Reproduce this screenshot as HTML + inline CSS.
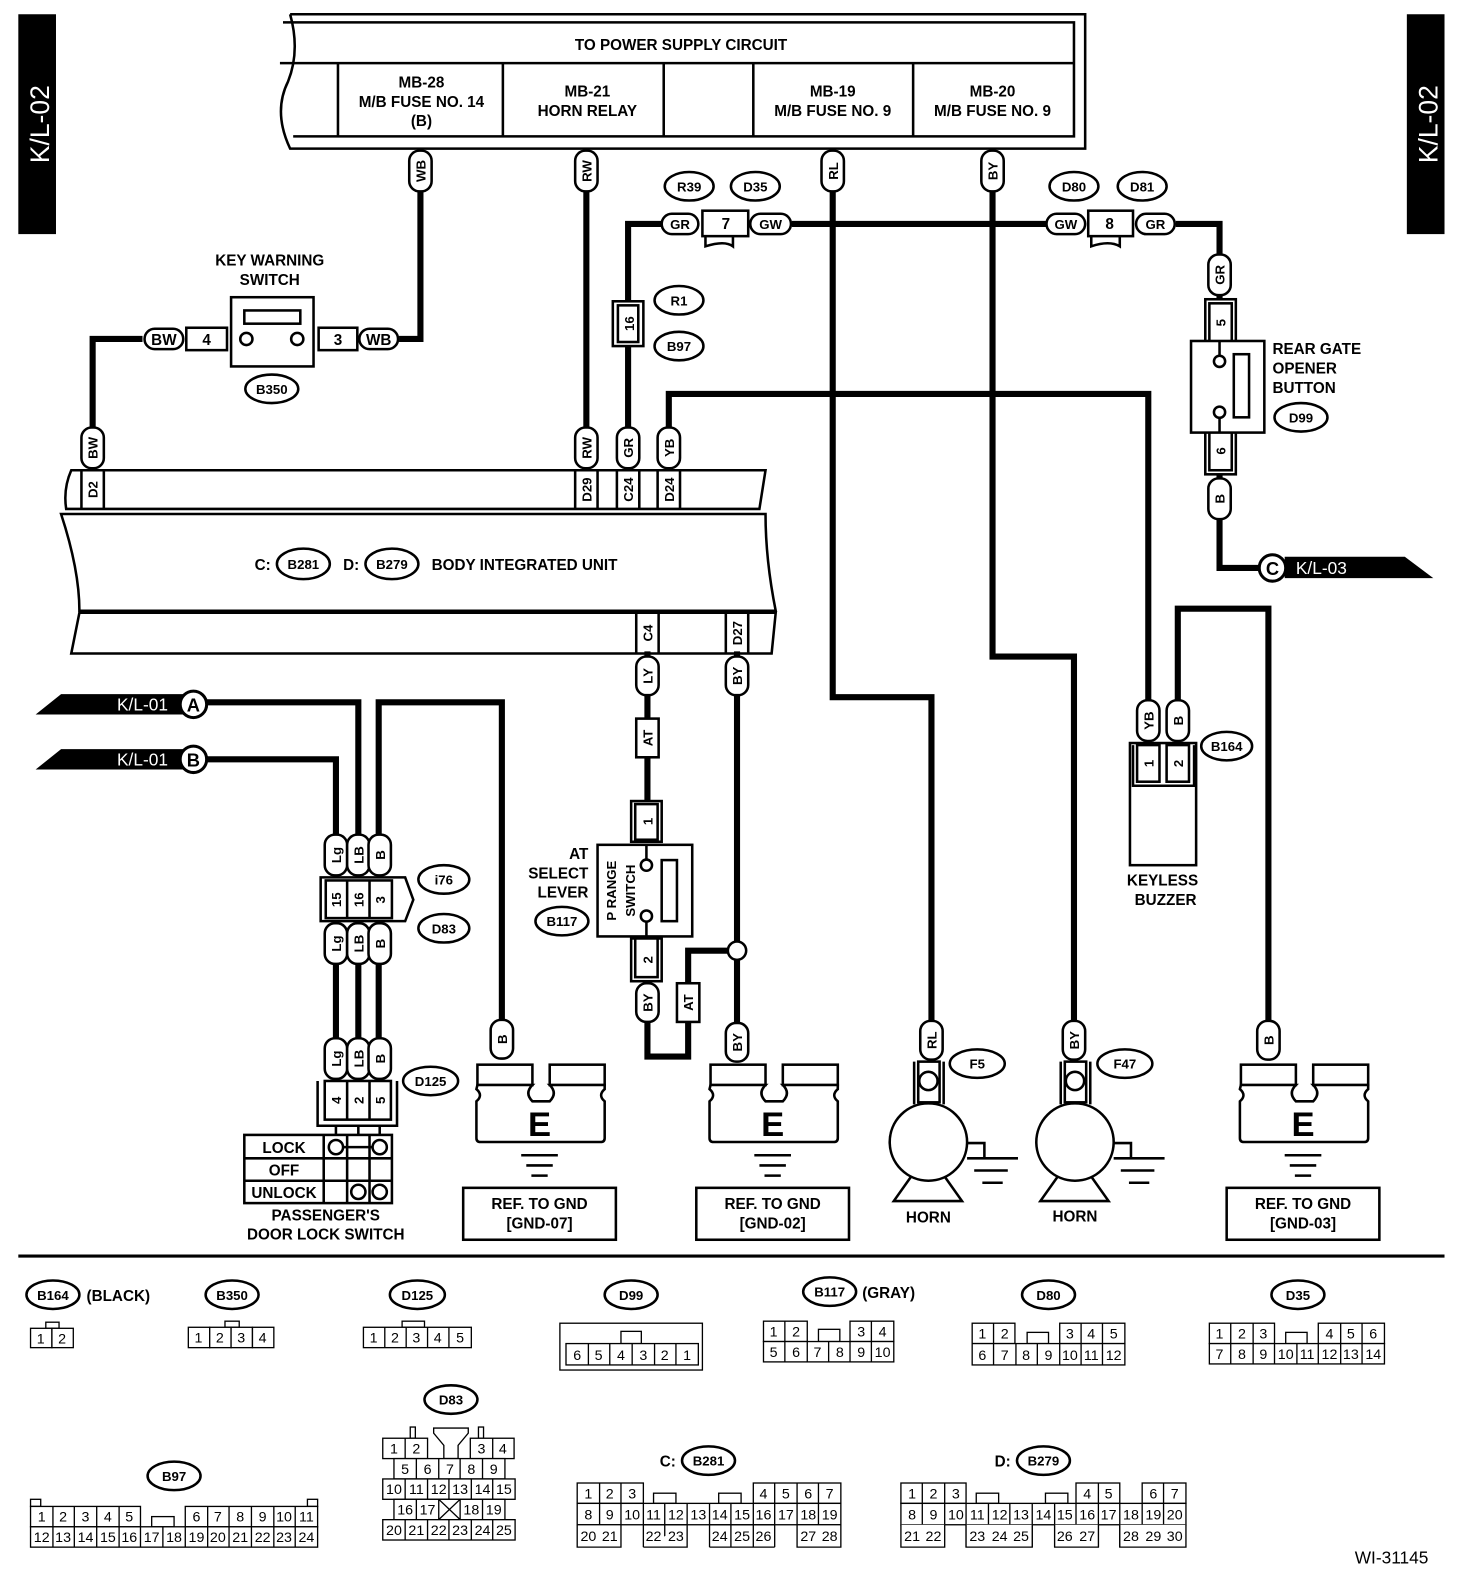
<!DOCTYPE html>
<html><head><meta charset="utf-8"><style>
html,body{margin:0;padding:0;background:#fff}
svg{display:block}
text{font-family:"Liberation Sans",Arial,sans-serif;font-weight:bold;fill:#000}
.w{fill:none;stroke:#000;stroke-width:6}
.l{fill:none;stroke:#000;stroke-width:2.5}
.p{fill:#fff;stroke:#000;stroke-width:2.5}
.t{font-size:15px;text-anchor:middle}
.s{font-size:13px;text-anchor:middle}
.c{fill:#fff;stroke:#000;stroke-width:1.3}
.n{font-size:14px;text-anchor:middle;font-weight:normal}
</style></head><body>
<svg width="1472" height="1596" viewBox="0 0 1446 1568" preserveAspectRatio="none" xmlns="http://www.w3.org/2000/svg">
<!-- side bars -->
<rect x="18" y="14" width="37" height="216" fill="#000"/>
<text transform="translate(48,122) rotate(-90)" style="fill:#fff;font-size:26px;font-weight:normal" text-anchor="middle">K/L-02</text>
<rect x="1382" y="14" width="37" height="216" fill="#000"/>
<text transform="translate(1412,122) rotate(-90)" style="fill:#fff;font-size:26px;font-weight:normal" text-anchor="middle">K/L-02</text>

<!-- top box -->
<path class="l" d="M285,14 L1066,14 L1066,146 L285,146 Q268,110 283,80 Q295,50 285,14" stroke-width="3"/>
<path class="l" d="M278,22 L1055,22 L1055,134 L288,134 M275,62 L1055,62 M332,62 V134 M494,62 V134 M652,62 V134 M740,62 V134 M897,62 V134"/>
<text x="669" y="49" class="t">TO POWER SUPPLY CIRCUIT</text>
<text x="414" y="86" class="t">MB-28</text><text x="414" y="105" class="t">M/B FUSE NO. 14</text><text x="414" y="124" class="t">(B)</text>
<text x="577" y="95" class="t">MB-21</text><text x="577" y="114" class="t">HORN RELAY</text>
<text x="818" y="95" class="t">MB-19</text><text x="818" y="114" class="t">M/B FUSE NO. 9</text>
<text x="975" y="95" class="t">MB-20</text><text x="975" y="114" class="t">M/B FUSE NO. 9</text>

<!-- wires -->
<path class="w" d="M413,146 V333 H392"/>
<path class="w" d="M140,333 H91 V460"/>
<path class="w" d="M576,146 V462"/>
<path class="w" d="M617,462 V220 H650"/>
<path class="w" d="M778,220 H1028"/>
<path class="w" d="M1155,220 H1198 V295"/>
<path class="w" d="M1198,465 V558 H1240"/>
<path class="w" d="M818,146 V685 H915 V1005"/>
<path class="w" d="M975,146 V645 H1055 V1005"/>
<path class="w" d="M657,462 V387 H1128 V690"/>
<path class="w" d="M1157,690 V598 H1246 V1005"/>
<path class="w" d="M636,640 V790"/>
<path class="w" d="M636,960 V1038 H676 V934 H724"/>
<path class="w" d="M724,640 V1005"/>
<path class="w" d="M200,690 H352 V820 M372,820 V690 H493 V1002 M200,746 H330 V820"/>
<path class="w" d="M330,905 V1062 M352,905 V1062 M372,905 V1062"/>
<circle cx="724" cy="934" r="9" class="p"/>

<!-- key warning switch -->
<text x="265" y="261" class="t">KEY WARNING</text><text x="265" y="280" class="t">SWITCH</text>
<rect x="227" y="292" width="81" height="68" class="p"/>
<rect x="240" y="305" width="55" height="13" class="p"/>
<circle cx="242" cy="333" r="6" class="p"/><circle cx="292" cy="333" r="6" class="p"/>
<rect x="183" y="322" width="40" height="22" class="p"/><text x="203" y="339" class="t">4</text>
<rect x="313" y="322" width="38" height="22" class="p"/><text x="332" y="339" class="t">3</text>
<rect x="142" y="323" width="38" height="20" rx="10" class="p"/><text x="161" y="339" class="t">BW</text>
<rect x="353" y="323" width="38" height="20" rx="10" class="p"/><text x="372" y="339" class="t">WB</text>
<ellipse cx="267" cy="382" rx="26" ry="14" class="p"/><text x="267" y="387" class="s">B350</text>

<!-- vertical pills -->
<g>
<rect x="402" y="148" width="22" height="40" rx="10" class="p"/><text transform="translate(418,168) rotate(-90)" class="s">WB</text>
<rect x="565" y="148" width="22" height="40" rx="10" class="p"/><text transform="translate(581,168) rotate(-90)" class="s">RW</text>
<rect x="807" y="148" width="22" height="40" rx="10" class="p"/><text transform="translate(823,168) rotate(-90)" class="s">RL</text>
<rect x="964" y="148" width="22" height="40" rx="10" class="p"/><text transform="translate(980,168) rotate(-90)" class="s">BY</text>
<rect x="80" y="420" width="22" height="40" rx="10" class="p"/><text transform="translate(96,440) rotate(-90)" class="s">BW</text>
<rect x="565" y="420" width="22" height="40" rx="10" class="p"/><text transform="translate(581,440) rotate(-90)" class="s">RW</text>
<rect x="606" y="420" width="22" height="40" rx="10" class="p"/><text transform="translate(622,440) rotate(-90)" class="s">GR</text>
<rect x="646" y="420" width="22" height="40" rx="10" class="p"/><text transform="translate(662,440) rotate(-90)" class="s">YB</text>
<rect x="1187" y="250" width="22" height="40" rx="10" class="p"/><text transform="translate(1203,270) rotate(-90)" class="s">GR</text>
<rect x="1187" y="470" width="22" height="40" rx="10" class="p"/><text transform="translate(1203,490) rotate(-90)" class="s">B</text>
<rect x="625" y="645" width="22" height="38" rx="10" class="p"/><text transform="translate(641,664) rotate(-90)" class="s">LY</text>
<rect x="713" y="645" width="22" height="38" rx="10" class="p"/><text transform="translate(729,664) rotate(-90)" class="s">BY</text>
<rect x="625" y="706" width="22" height="38" class="p"/><text transform="translate(641,725) rotate(-90)" class="s">AT</text>
<rect x="625" y="966" width="22" height="38" rx="10" class="p"/><text transform="translate(641,985) rotate(-90)" class="s">BY</text>
<rect x="665" y="966" width="22" height="38" class="p"/><text transform="translate(681,985) rotate(-90)" class="s">AT</text>
<rect x="713" y="1005" width="22" height="38" rx="10" class="p"/><text transform="translate(729,1024) rotate(-90)" class="s">BY</text>
<rect x="482" y="1002" width="22" height="38" rx="10" class="p"/><text transform="translate(498,1021) rotate(-90)" class="s">B</text>
<rect x="904" y="1003" width="22" height="38" rx="10" class="p"/><text transform="translate(920,1022) rotate(-90)" class="s">RL</text>
<rect x="1044" y="1003" width="22" height="38" rx="10" class="p"/><text transform="translate(1060,1022) rotate(-90)" class="s">BY</text>
<rect x="1235" y="1003" width="22" height="38" rx="10" class="p"/><text transform="translate(1251,1022) rotate(-90)" class="s">B</text>
<rect x="1117" y="688" width="22" height="40" rx="10" class="p"/><text transform="translate(1133,708) rotate(-90)" class="s">YB</text>
<rect x="1146" y="688" width="22" height="40" rx="10" class="p"/><text transform="translate(1162,708) rotate(-90)" class="s">B</text>
<rect x="319" y="820" width="22" height="40" rx="10" class="p"/><text transform="translate(335,840) rotate(-90)" class="s">Lg</text>
<rect x="341" y="820" width="22" height="40" rx="10" class="p"/><text transform="translate(357,840) rotate(-90)" class="s">LB</text>
<rect x="362" y="820" width="22" height="40" rx="10" class="p"/><text transform="translate(378,840) rotate(-90)" class="s">B</text>
<rect x="319" y="907" width="22" height="40" rx="10" class="p"/><text transform="translate(335,927) rotate(-90)" class="s">Lg</text>
<rect x="341" y="907" width="22" height="40" rx="10" class="p"/><text transform="translate(357,927) rotate(-90)" class="s">LB</text>
<rect x="362" y="907" width="22" height="40" rx="10" class="p"/><text transform="translate(378,927) rotate(-90)" class="s">B</text>
<rect x="319" y="1020" width="22" height="40" rx="10" class="p"/><text transform="translate(335,1040) rotate(-90)" class="s">Lg</text>
<rect x="341" y="1020" width="22" height="40" rx="10" class="p"/><text transform="translate(357,1040) rotate(-90)" class="s">LB</text>
<rect x="362" y="1020" width="22" height="40" rx="10" class="p"/><text transform="translate(378,1040) rotate(-90)" class="s">B</text>
</g>

<!-- R39/D35 connector -->
<rect x="650" y="210" width="36" height="20" rx="10" class="p"/><text x="668" y="225" class="s">GR</text>
<rect x="690" y="207" width="45" height="25" class="p"/><path class="l" d="M693,232 V242 Q712,236 720,242 V232"/><text x="713" y="225" class="t">7</text>
<rect x="737" y="210" width="40" height="20" rx="10" class="p"/><text x="757" y="225" class="s">GW</text>
<ellipse cx="677" cy="183" rx="24" ry="14" class="p"/><text x="677" y="188" class="s">R39</text>
<ellipse cx="742" cy="183" rx="24" ry="14" class="p"/><text x="742" y="188" class="s">D35</text>
<rect x="1028" y="210" width="38" height="20" rx="10" class="p"/><text x="1047" y="225" class="s">GW</text>
<rect x="1069" y="207" width="44" height="25" class="p"/><path class="l" d="M1072,232 V242 Q1090,236 1100,242 V232"/><text x="1090" y="225" class="t">8</text>
<rect x="1116" y="210" width="38" height="20" rx="10" class="p"/><text x="1135" y="225" class="s">GR</text>
<ellipse cx="1055" cy="183" rx="24" ry="14" class="p"/><text x="1055" y="188" class="s">D80</text>
<ellipse cx="1122" cy="183" rx="24" ry="14" class="p"/><text x="1122" y="188" class="s">D81</text>

<!-- R1 connector 16 -->
<rect x="602" y="296" width="30" height="44" class="p"/><rect x="607" y="300" width="20" height="36" class="p"/><text transform="translate(623,318) rotate(-90)" class="s">16</text>
<ellipse cx="667" cy="295" rx="24" ry="14" class="p"/><text x="667" y="300" class="s">R1</text>
<ellipse cx="667" cy="340" rx="24" ry="14" class="p"/><text x="667" y="345" class="s">B97</text>

<!-- rear gate -->
<rect x="1184" y="294" width="30" height="42" class="p"/><rect x="1188" y="298" width="22" height="38" class="p"/><text transform="translate(1204,317) rotate(-90)" class="s">5</text>
<rect x="1184" y="424" width="30" height="42" class="p"/><rect x="1188" y="424" width="22" height="38" class="p"/><text transform="translate(1204,443) rotate(-90)" class="s">6</text>
<rect x="1170" y="335" width="72" height="90" class="p"/>
<rect x="1212" y="348" width="15" height="62" class="p"/>
<path class="l" d="M1198,336 V350 M1198,410 V424"/>
<circle cx="1198" cy="355" r="5.5" class="p"/><circle cx="1198" cy="405" r="5.5" class="p"/>
<text x="1250" y="348" class="t" style="text-anchor:start">REAR GATE</text>
<text x="1250" y="367" class="t" style="text-anchor:start">OPENER</text>
<text x="1250" y="386" class="t" style="text-anchor:start">BUTTON</text>
<ellipse cx="1278" cy="410" rx="26" ry="14" class="p"/><text x="1278" y="415" class="s">D99</text>
<!-- K/L-03 -->
<path d="M1262,547 H1380 L1408,568 H1262 Z" fill="#000"/>
<text x="1273" y="564" style="fill:#fff;font-size:17px;font-weight:normal">K/L-03</text>
<circle cx="1250" cy="558" r="13" fill="#fff" stroke="#000" stroke-width="3"/><text x="1250" y="565" class="t" style="font-size:18px">C</text>

<!-- body integrated unit -->
<path class="l" stroke-width="3.5" d="M70,462 H752 L746,500 H65 Q62,480 70,462 Z"/>
<path class="l" stroke-width="3.5" d="M60,505 H752 Q752,550 762,600 H78 Q78,560 60,505 Z"/>
<path class="l" stroke-width="3.5" d="M78,602 H762 L758,642 H70 Z"/>
<path class="l" d="M80,462 V500 M102,462 V500 M565,462 V500 M587,462 V500 M606,462 V500 M628,462 V500 M646,462 V500 M668,462 V500 M625,602 V642 M647,602 V642 M713,602 V642 M735,602 V642"/>
<text transform="translate(96,481) rotate(-90)" class="s">D2</text>
<text transform="translate(581,481) rotate(-90)" class="s">D29</text>
<text transform="translate(622,481) rotate(-90)" class="s">C24</text>
<text transform="translate(662,481) rotate(-90)" class="s">D24</text>
<text transform="translate(641,622) rotate(-90)" class="s">C4</text>
<text transform="translate(729,622) rotate(-90)" class="s">D27</text>
<text x="258" y="560" class="t">C:</text>
<ellipse cx="298" cy="554" rx="26" ry="15" class="p"/><text x="298" y="559" class="s">B281</text>
<text x="345" y="560" class="t">D:</text>
<ellipse cx="385" cy="554" rx="26" ry="15" class="p"/><text x="385" y="559" class="s">B279</text>
<text x="424" y="560" class="t" style="text-anchor:start">BODY INTEGRATED UNIT</text>

<!-- K/L-01 -->
<path d="M35,702 L60,682 H180 V702 Z" fill="#000"/>
<text x="140" y="698" style="fill:#fff;font-size:17px;font-weight:normal" text-anchor="middle">K/L-01</text>
<circle cx="190" cy="692" r="13" fill="#fff" stroke="#000" stroke-width="3"/><text x="190" y="699" class="t" style="font-size:18px">A</text>
<path d="M35,756 L60,736 H180 V756 Z" fill="#000"/>
<text x="140" y="752" style="fill:#fff;font-size:17px;font-weight:normal" text-anchor="middle">K/L-01</text>
<circle cx="190" cy="746" r="13" fill="#fff" stroke="#000" stroke-width="3"/><text x="190" y="753" class="t" style="font-size:18px">B</text>

<!-- i76/D83 connector -->
<path class="l" d="M315,862 H398 L406,884 L398,905 H315 Z"/>
<rect x="320" y="865" width="65" height="37" class="p"/>
<path class="l" d="M341,865 V902 M363,865 V902"/>
<text transform="translate(335,884) rotate(-90)" class="s">15</text>
<text transform="translate(357,884) rotate(-90)" class="s">16</text>
<text transform="translate(378,884) rotate(-90)" class="s">3</text>
<ellipse cx="436" cy="864" rx="25" ry="14" class="p"/><text x="436" y="869" class="s">i76</text>
<ellipse cx="436" cy="912" rx="25" ry="14" class="p"/><text x="436" y="917" class="s">D83</text>

<!-- D125 -->
<path class="l" d="M312,1062 V1106 H390 V1062"/>
<rect x="319" y="1062" width="65" height="38" class="p"/>
<path class="l" d="M341,1062 V1100 M363,1062 V1100 M330,1106 V1117 M352,1106 V1117 M373,1106 V1117"/>
<text transform="translate(335,1081) rotate(-90)" class="s">4</text>
<text transform="translate(357,1081) rotate(-90)" class="s">2</text>
<text transform="translate(378,1081) rotate(-90)" class="s">5</text>
<ellipse cx="423" cy="1062" rx="27" ry="14" class="p"/><text x="423" y="1067" class="s">D125</text>
<rect x="240" y="1115" width="145" height="67" class="p"/>
<path class="l" d="M240,1138 H385 M240,1160 H385 M318,1115 V1182 M341,1115 V1182 M363,1115 V1182 M330,1127 H373"/>
<circle cx="330" cy="1127" r="7" class="p" stroke-width="3"/><circle cx="373" cy="1127" r="7" class="p" stroke-width="3"/>
<circle cx="352" cy="1171" r="7" class="p" stroke-width="3"/><circle cx="373" cy="1171" r="7" class="p" stroke-width="3"/>
<text x="279" y="1133" class="t">LOCK</text><text x="279" y="1155" class="t">OFF</text><text x="279" y="1177" class="t">UNLOCK</text>
<text x="320" y="1199" class="t">PASSENGER'S</text><text x="320" y="1218" class="t">DOOR LOCK SWITCH</text>

<!-- P range switch -->
<rect x="620" y="787" width="30" height="40" class="p"/><rect x="624" y="790" width="22" height="35" class="p"/><text transform="translate(641,807) rotate(-90)" class="s">1</text>
<rect x="620" y="922" width="30" height="42" class="p"/><rect x="624" y="922" width="22" height="38" class="p"/><text transform="translate(641,943) rotate(-90)" class="s">2</text>
<rect x="587" y="830" width="93" height="90" class="p"/>
<rect x="650" y="845" width="15" height="60" class="p"/>
<path class="l" d="M635,830 V845 M635,905 V920"/>
<circle cx="635" cy="850" r="5.5" class="p"/><circle cx="635" cy="900" r="5.5" class="p"/>
<text transform="translate(605,875) rotate(-90)" class="s">P RANGE</text>
<text transform="translate(624,875) rotate(-90)" class="s">SWITCH</text>
<text x="578" y="844" class="t" style="text-anchor:end">AT</text>
<text x="578" y="863" class="t" style="text-anchor:end">SELECT</text>
<text x="578" y="882" class="t" style="text-anchor:end">LEVER</text>
<ellipse cx="552" cy="905" rx="26" ry="14" class="p"/><text x="552" y="910" class="s">B117</text>

<!-- keyless buzzer -->
<rect x="1110" y="730" width="65" height="120" class="p"/>
<path class="l" d="M1113,732 V772 H1173 V732"/>
<rect x="1117" y="732" width="22" height="36" class="p"/><rect x="1146" y="732" width="22" height="36" class="p"/>
<text transform="translate(1133,750) rotate(-90)" class="s">1</text>
<text transform="translate(1162,750) rotate(-90)" class="s">2</text>
<ellipse cx="1205" cy="733" rx="25" ry="14" class="p"/><text x="1205" y="738" class="s">B164</text>
<text x="1142" y="870" class="t">KEYLESS</text><text x="1145" y="889" class="t">BUZZER</text>

<!-- ground symbols -->
<g id="g1">
<rect x="469" y="1046" width="54" height="20" class="p" stroke-width="3"/>
<rect x="540" y="1046" width="54" height="20" class="p" stroke-width="3"/>
<path class="p" stroke-width="3" d="M469,1066 H523 Q515,1074 523,1082 H540 Q548,1074 540,1066 H594 V1070 Q587,1076 594,1082 V1118 Q594,1122 590,1122 H472 Q468,1122 468,1118 V1082 Q475,1076 468,1070 Z"/>
<text x="530" y="1116" style="font-size:34px;text-anchor:middle">E</text>
<path class="l" d="M512,1135 H548 M517,1145 H543 M522,1155 H538" stroke-width="3"/>
<rect x="455" y="1167" width="150" height="51" class="p" stroke-width="3"/>
</g>
<text x="530" y="1188" class="t">REF. TO GND</text><text x="530" y="1207" class="t">[GND-07]</text>
<use href="#g1" x="229"/>
<text x="759" y="1188" class="t">REF. TO GND</text><text x="759" y="1207" class="t">[GND-02]</text>
<use href="#g1" x="750"/>
<text x="1280" y="1188" class="t">REF. TO GND</text><text x="1280" y="1207" class="t">[GND-03]</text>

<!-- horns -->
<g id="h1">
<path class="l" d="M898,1043 V1085 M927,1043 V1085"/>
<rect x="902" y="1043" width="21" height="40" class="p"/>
<circle cx="912" cy="1062" r="9" class="p"/>
<circle cx="912" cy="1122" r="38" class="p"/>
<path class="l" d="M895,1156 L878,1180 H945 L928,1156"/>
<path class="l" d="M950,1123 H967 V1138 M950,1138 H1000 M957,1150 H990 M965,1162 H985" stroke-width="3"/>
</g>
<text x="912" y="1201" class="t">HORN</text>
<use href="#h1" x="144"/>
<text x="1056" y="1200" class="t">HORN</text>
<ellipse cx="960" cy="1045" rx="27" ry="14" class="p"/><text x="960" y="1050" class="s">F5</text>
<ellipse cx="1105" cy="1045" rx="27" ry="14" class="p"/><text x="1105" y="1050" class="s">F47</text>

<path d="M18,1234 H1419" stroke="#000" stroke-width="3"/>

<!-- connector legends -->
<g>
<ellipse cx="52" cy="1272" rx="26" ry="14" class="p"/><text x="52" y="1277" class="s">B164</text><text x="85" y="1278" class="t" style="text-anchor:start">(BLACK)</text>
<rect x="45" y="1299" width="13" height="6" class="c"/>
<rect x="30" y="1305" width="21" height="19" class="c"/><rect x="51" y="1305" width="21" height="19" class="c"/>
<text x="40" y="1320" class="n">1</text><text x="61" y="1320" class="n">2</text>

<ellipse cx="228" cy="1272" rx="26" ry="14" class="p"/><text x="228" y="1277" class="s">B350</text>
<rect x="221" y="1298" width="14" height="6" class="c"/>
<rect x="185" y="1304" width="21" height="20" class="c"/><rect x="206" y="1304" width="21" height="20" class="c"/><rect x="227" y="1304" width="21" height="20" class="c"/><rect x="248" y="1304" width="21" height="20" class="c"/>
<text x="195" y="1319" class="n">1</text><text x="216" y="1319" class="n">2</text><text x="237" y="1319" class="n">3</text><text x="258" y="1319" class="n">4</text>

<ellipse cx="410" cy="1272" rx="27" ry="14" class="p"/><text x="410" y="1277" class="s">D125</text>
<rect x="395" y="1298" width="22" height="6" class="c"/>
<rect x="357" y="1304" width="106" height="20" class="c"/>
<path class="c" d="M378,1304 V1324 M399,1304 V1324 M420,1304 V1324 M441,1304 V1324"/>
<text x="367" y="1319" class="n">1</text><text x="388" y="1319" class="n">2</text><text x="409" y="1319" class="n">3</text><text x="430" y="1319" class="n">4</text><text x="452" y="1319" class="n">5</text>

<ellipse cx="620" cy="1272" rx="26" ry="14" class="p"/><text x="620" y="1277" class="s">D99</text>
<rect x="550" y="1300" width="140" height="46" class="c"/>
<rect x="610" y="1308" width="20" height="12" class="c"/>
<rect x="556" y="1320" width="130" height="21" class="c"/>
<path class="c" d="M578,1320 V1341 M599,1320 V1341 M621,1320 V1341 M643,1320 V1341 M664,1320 V1341"/>
<text x="567" y="1336" class="n">6</text><text x="588" y="1336" class="n">5</text><text x="610" y="1336" class="n">4</text><text x="632" y="1336" class="n">3</text><text x="653" y="1336" class="n">2</text><text x="675" y="1336" class="n">1</text>

<ellipse cx="815" cy="1269" rx="26" ry="14" class="p"/><text x="815" y="1274" class="s">B117</text><text x="847" y="1275" class="t" style="text-anchor:start">(GRAY)</text>
<rect x="750" y="1298" width="43" height="20" class="c"/><rect x="835" y="1298" width="43" height="20" class="c"/>
<path class="c" d="M771,1298 V1318 M856,1298 V1318"/><rect x="804" y="1306" width="21" height="12" class="c"/>
<rect x="750" y="1318" width="128" height="20" class="c"/>
<path class="c" d="M771,1318 V1338 M793,1318 V1338 M814,1318 V1338 M835,1318 V1338 M856,1318 V1338"/>
<text x="760" y="1313" class="n">1</text><text x="782" y="1313" class="n">2</text><text x="846" y="1313" class="n">3</text><text x="867" y="1313" class="n">4</text>
<text x="760" y="1333" class="n">5</text><text x="782" y="1333" class="n">6</text><text x="803" y="1333" class="n">7</text><text x="825" y="1333" class="n">8</text><text x="846" y="1333" class="n">9</text><text x="867" y="1333" class="n">10</text>

<ellipse cx="1030" cy="1272" rx="26" ry="14" class="p"/><text x="1030" y="1277" class="s">D80</text>
<rect x="955" y="1300" width="42" height="20" class="c"/><rect x="1041" y="1300" width="64" height="20" class="c"/>
<path class="c" d="M976,1300 V1320 M1062,1300 V1320 M1083,1300 V1320"/><rect x="1009" y="1309" width="21" height="11" class="c"/>
<rect x="955" y="1320" width="150" height="21" class="c"/>
<path class="c" d="M976,1320 V1341 M998,1320 V1341 M1019,1320 V1341 M1041,1320 V1341 M1062,1320 V1341 M1083,1320 V1341"/>
<text x="965" y="1315" class="n">1</text><text x="987" y="1315" class="n">2</text><text x="1051" y="1315" class="n">3</text><text x="1072" y="1315" class="n">4</text><text x="1094" y="1315" class="n">5</text>
<text x="965" y="1336" class="n">6</text><text x="987" y="1336" class="n">7</text><text x="1008" y="1336" class="n">8</text><text x="1030" y="1336" class="n">9</text><text x="1051" y="1336" class="n">10</text><text x="1072" y="1336" class="n">11</text><text x="1094" y="1336" class="n">12</text>

<ellipse cx="1275" cy="1272" rx="26" ry="14" class="p"/><text x="1275" y="1277" class="s">D35</text>
<rect x="1188" y="1300" width="64" height="20" class="c"/><rect x="1295" y="1300" width="65" height="20" class="c"/>
<path class="c" d="M1209,1300 V1320 M1231,1300 V1320 M1317,1300 V1320 M1338,1300 V1320"/><rect x="1263" y="1309" width="21" height="11" class="c"/>
<rect x="1188" y="1320" width="172" height="20" class="c"/>
<path class="c" d="M1209,1320 V1340 M1231,1320 V1340 M1252,1320 V1340 M1274,1320 V1340 M1295,1320 V1340 M1317,1320 V1340 M1338,1320 V1340"/>
<text x="1198" y="1315" class="n">1</text><text x="1220" y="1315" class="n">2</text><text x="1241" y="1315" class="n">3</text><text x="1306" y="1315" class="n">4</text><text x="1327" y="1315" class="n">5</text><text x="1349" y="1315" class="n">6</text>
<text x="1198" y="1335" class="n">7</text><text x="1220" y="1335" class="n">8</text><text x="1241" y="1335" class="n">9</text><text x="1263" y="1335" class="n">10</text><text x="1284" y="1335" class="n">11</text><text x="1306" y="1335" class="n">12</text><text x="1327" y="1335" class="n">13</text><text x="1349" y="1335" class="n">14</text>

<!-- D83 -->
<ellipse cx="443" cy="1375" rx="26" ry="14" class="p"/><text x="443" y="1380" class="s">D83</text>
<rect x="403" y="1402" width="5" height="11" class="c"/><rect x="470" y="1402" width="5" height="11" class="c"/>
<path class="c" d="M426,1403 H460 V1408 L450,1420 V1433 H436 V1420 L426,1408 Z"/>
<rect x="376" y="1413" width="44" height="20" class="c"/><path class="c" d="M398,1413 V1433"/>
<rect x="462" y="1413" width="43" height="20" class="c"/><path class="c" d="M484,1413 V1433"/>
<text x="387" y="1428" class="n">1</text><text x="409" y="1428" class="n">2</text><text x="473" y="1428" class="n">3</text><text x="494" y="1428" class="n">4</text>
<rect x="387" y="1433" width="109" height="20" class="c"/><path class="c" d="M409,1433 V1453 M431,1433 V1453 M452,1433 V1453 M474,1433 V1453"/>
<text x="398" y="1448" class="n">5</text><text x="420" y="1448" class="n">6</text><text x="442" y="1448" class="n">7</text><text x="463" y="1448" class="n">8</text><text x="485" y="1448" class="n">9</text>
<rect x="376" y="1453" width="130" height="20" class="c"/><path class="c" d="M398,1453 V1473 M420,1453 V1473 M441,1453 V1473 M463,1453 V1473 M484,1453 V1473"/>
<text x="387" y="1468" class="n">10</text><text x="409" y="1468" class="n">11</text><text x="431" y="1468" class="n">12</text><text x="452" y="1468" class="n">13</text><text x="474" y="1468" class="n">14</text><text x="495" y="1468" class="n">15</text>
<rect x="387" y="1473" width="109" height="20" class="c"/><path class="c" d="M409,1473 V1493 M431,1473 V1493 M452,1473 V1493 M474,1473 V1493 M431,1473 L452,1493 M452,1473 L431,1493"/>
<text x="398" y="1488" class="n">16</text><text x="420" y="1488" class="n">17</text><text x="463" y="1488" class="n">18</text><text x="485" y="1488" class="n">19</text>
<rect x="376" y="1493" width="130" height="20" class="c"/><path class="c" d="M398,1493 V1513 M420,1493 V1513 M441,1493 V1513 M463,1493 V1513 M484,1493 V1513"/>
<text x="387" y="1508" class="n">20</text><text x="409" y="1508" class="n">21</text><text x="431" y="1508" class="n">22</text><text x="452" y="1508" class="n">23</text><text x="474" y="1508" class="n">24</text><text x="495" y="1508" class="n">25</text>

<!-- B97 -->
<ellipse cx="171" cy="1450" rx="26" ry="14" class="p"/><text x="171" y="1455" class="s">B97</text>
<rect x="30" y="1473" width="10" height="7" class="c"/><rect x="302" y="1473" width="10" height="7" class="c"/>
<rect x="30" y="1480" width="108" height="20" class="c"/><path class="c" d="M52,1480 V1500 M73,1480 V1500 M95,1480 V1500 M117,1480 V1500"/>
<rect x="182" y="1480" width="130" height="20" class="c"/><path class="c" d="M204,1480 V1500 M225,1480 V1500 M247,1480 V1500 M269,1480 V1500 M290,1480 V1500"/>
<rect x="149" y="1490" width="22" height="10" class="c"/>
<text x="41" y="1495" class="n">1</text><text x="62" y="1495" class="n">2</text><text x="84" y="1495" class="n">3</text><text x="106" y="1495" class="n">4</text><text x="127" y="1495" class="n">5</text>
<text x="193" y="1495" class="n">6</text><text x="214" y="1495" class="n">7</text><text x="236" y="1495" class="n">8</text><text x="258" y="1495" class="n">9</text><text x="279" y="1495" class="n">10</text><text x="301" y="1495" class="n">11</text>
<rect x="30" y="1500" width="282" height="20" class="c"/>
<path class="c" d="M52,1500 V1520 M73,1500 V1520 M95,1500 V1520 M117,1500 V1520 M138,1500 V1520 M160,1500 V1520 M182,1500 V1520 M204,1500 V1520 M225,1500 V1520 M247,1500 V1520 M269,1500 V1520 M290,1500 V1520"/>
<text x="41" y="1515" class="n">12</text><text x="62" y="1515" class="n">13</text><text x="84" y="1515" class="n">14</text><text x="106" y="1515" class="n">15</text><text x="127" y="1515" class="n">16</text><text x="149" y="1515" class="n">17</text><text x="171" y="1515" class="n">18</text><text x="193" y="1515" class="n">19</text><text x="214" y="1515" class="n">20</text><text x="236" y="1515" class="n">21</text><text x="258" y="1515" class="n">22</text><text x="279" y="1515" class="n">23</text><text x="301" y="1515" class="n">24</text>

<!-- B281 -->
<text x="656" y="1441" class="t">C:</text>
<ellipse cx="696" cy="1435" rx="26" ry="14" class="p"/><text x="696" y="1440" class="s">B281</text>
<rect x="567" y="1457" width="65" height="20" class="c"/><path class="c" d="M589,1457 V1477 M610,1457 V1477"/>
<rect x="740" y="1457" width="86" height="20" class="c"/><path class="c" d="M761,1457 V1477 M783,1457 V1477 M804,1457 V1477"/>
<rect x="642" y="1467" width="22" height="10" class="c"/><rect x="706" y="1467" width="22" height="10" class="c"/>
<text x="578" y="1472" class="n">1</text><text x="599" y="1472" class="n">2</text><text x="621" y="1472" class="n">3</text><text x="750" y="1472" class="n">4</text><text x="772" y="1472" class="n">5</text><text x="794" y="1472" class="n">6</text><text x="815" y="1472" class="n">7</text>
<rect x="567" y="1477" width="259" height="21" class="c"/>
<path class="c" d="M589,1477 V1520 M610,1477 V1498 M632,1477 V1520 M653,1477 V1520 M675,1477 V1498 M697,1477 V1520 M718,1477 V1520 M740,1477 V1520 M761,1477 V1520 M783,1477 V1498 M804,1477 V1520"/>
<text x="578" y="1493" class="n">8</text><text x="599" y="1493" class="n">9</text><text x="621" y="1493" class="n">10</text><text x="642" y="1493" class="n">11</text><text x="664" y="1493" class="n">12</text><text x="686" y="1493" class="n">13</text><text x="707" y="1493" class="n">14</text><text x="729" y="1493" class="n">15</text><text x="750" y="1493" class="n">16</text><text x="772" y="1493" class="n">17</text><text x="794" y="1493" class="n">18</text><text x="815" y="1493" class="n">19</text>
<path class="c" d="M567,1498 H610 M632,1498 H675 M697,1498 H761 M783,1498 H826 M567,1498 V1520 H610 V1498 M632,1520 H675 V1498 M697,1520 H761 M783,1498 V1520 H826 V1498"/>
<text x="578" y="1514" class="n">20</text><text x="599" y="1514" class="n">21</text><text x="642" y="1514" class="n">22</text><text x="664" y="1514" class="n">23</text><text x="707" y="1514" class="n">24</text><text x="729" y="1514" class="n">25</text><text x="750" y="1514" class="n">26</text><text x="794" y="1514" class="n">27</text><text x="815" y="1514" class="n">28</text>

<!-- B279 -->
<text x="985" y="1441" class="t">D:</text>
<ellipse cx="1025" cy="1435" rx="26" ry="14" class="p"/><text x="1025" y="1440" class="s">B279</text>
<rect x="885" y="1457" width="64" height="20" class="c"/><path class="c" d="M906,1457 V1477 M928,1457 V1477"/>
<rect x="1057" y="1457" width="43" height="20" class="c"/><path class="c" d="M1079,1457 V1477"/>
<rect x="1122" y="1457" width="43" height="20" class="c"/><path class="c" d="M1143,1457 V1477"/>
<rect x="959" y="1467" width="22" height="10" class="c"/><rect x="1027" y="1467" width="22" height="10" class="c"/>
<text x="896" y="1472" class="n">1</text><text x="917" y="1472" class="n">2</text><text x="939" y="1472" class="n">3</text><text x="1068" y="1472" class="n">4</text><text x="1089" y="1472" class="n">5</text><text x="1133" y="1472" class="n">6</text><text x="1154" y="1472" class="n">7</text>
<rect x="885" y="1477" width="280" height="21" class="c"/>
<path class="c" d="M906,1477 V1520 M928,1477 V1498 M949,1477 V1520 M971,1477 V1520 M992,1477 V1520 M1014,1477 V1520 M1036,1477 V1520 M1057,1477 V1520 M1079,1477 V1520 M1100,1477 V1520 M1122,1477 V1520 M1143,1477 V1520"/>
<text x="896" y="1493" class="n">8</text><text x="917" y="1493" class="n">9</text><text x="939" y="1493" class="n">10</text><text x="960" y="1493" class="n">11</text><text x="982" y="1493" class="n">12</text><text x="1003" y="1493" class="n">13</text><text x="1025" y="1493" class="n">14</text><text x="1046" y="1493" class="n">15</text><text x="1068" y="1493" class="n">16</text><text x="1089" y="1493" class="n">17</text><text x="1111" y="1493" class="n">18</text><text x="1133" y="1493" class="n">19</text><text x="1154" y="1493" class="n">20</text>
<path class="c" d="M885,1498 V1520 H928 V1498 M949,1498 V1520 H1014 V1498 M1036,1498 V1520 H1079 V1498 M1100,1498 V1520 H1165 V1498"/>
<text x="896" y="1514" class="n">21</text><text x="917" y="1514" class="n">22</text><text x="960" y="1514" class="n">23</text><text x="982" y="1514" class="n">24</text><text x="1003" y="1514" class="n">25</text><text x="1046" y="1514" class="n">26</text><text x="1068" y="1514" class="n">27</text><text x="1111" y="1514" class="n">28</text><text x="1133" y="1514" class="n">29</text><text x="1154" y="1514" class="n">30</text>
</g>
<text x="1367" y="1536" style="font-size:17px;font-weight:normal;text-anchor:middle">WI-31145</text>
</svg>
</body></html>
